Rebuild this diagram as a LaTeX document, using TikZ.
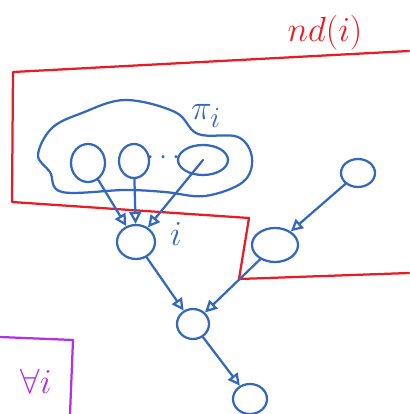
\documentclass[tikz,border=0pt]{standalone}
\usetikzlibrary{arrows.meta,shapes.geometric}
\definecolor{inkblue}{RGB}{52,104,192}
\definecolor{inkred}{RGB}{232,28,36}
\definecolor{inkpurple}{RGB}{176,48,240}
\begin{document}
\begin{tikzpicture}[x = 0.25mm, y = -0.25mm, line width = 1.6pt, line cap = round, line join = round,
	var/.style = {draw = inkblue, ellipse, inner sep = 0pt},
	dep/.style = {draw = inkblue, -{Triangle[open, length = 3mm, width = 3mm]}},
	ink/.style = {font = \fontsize{32}{32}\selectfont}]
	\useasboundingbox (0,0) rectangle (409,414);
	% plate of the non-descendants
	\draw[inkred] (409,51) -- (13,72) -- (12,202) -- (249,218) -- (239,279) -- (409,273);
	\node[inkred, ink, font = \fontsize{28}{28}\selectfont] (ndlabel) at (325,33) {$nd(i)$};
	% parents of i
	\draw[inkblue] plot[smooth cycle, tension = 0.6] coordinates {(82,113) (125,100) (175,112) (198,134) (238,137) (252,158) (243,182) (205,196) (165,192) (125,190) (62,192) (50,172) (38,155) (52,128)};
	\node[inkblue, ink] (pilabel) at (206,116) {$\pi_i$};
	\node[var, minimum width = 8.5mm, minimum height = 9.5mm] (pa) at (88,163) {};
	\node[var, minimum width = 7.5mm, minimum height = 8.5mm] (pb) at (134,161) {};
	\node[inkblue, font = \huge] (dots) at (164,158) {$\cdots$};
	\node[var, minimum width = 12.5mm, minimum height = 7.5mm] (pc) at (203,160) {};
	% i and the rest
	\node[var, minimum width = 9.5mm, minimum height = 8.5mm] (xi) at (136,242) {};
	\node[inkblue, ink] (ilabel) at (176,234) {$i$};
	\node[var, minimum width = 11.5mm, minimum height = 8.5mm] (nb) at (275,245) {};
	\node[var, minimum width = 8.5mm, minimum height = 7mm] (nc) at (358,173) {};
	\node[var, minimum width = 8mm, minimum height = 7.5mm] (ch) at (193,324) {};
	\node[var, minimum width = 8.5mm, minimum height = 7.5mm] (gc) at (250,399) {};
	\draw[dep] (pa) -- (xi);
	\draw[dep] (pb) -- (xi);
	\draw[dep] (pc.center) -- (xi);
	\draw[dep] (xi) -- (ch);
	\draw[dep] (nb) -- (ch);
	\draw[dep] (nc) -- (nb);
	\draw[dep] (ch) -- (gc);
	% plate over i
	\draw[inkpurple] (0,337) -- (73,340) -- (70,414);
	\node[inkpurple, ink] (alllabel) at (36,381) {$\forall i$};
\end{tikzpicture}
\end{document}
